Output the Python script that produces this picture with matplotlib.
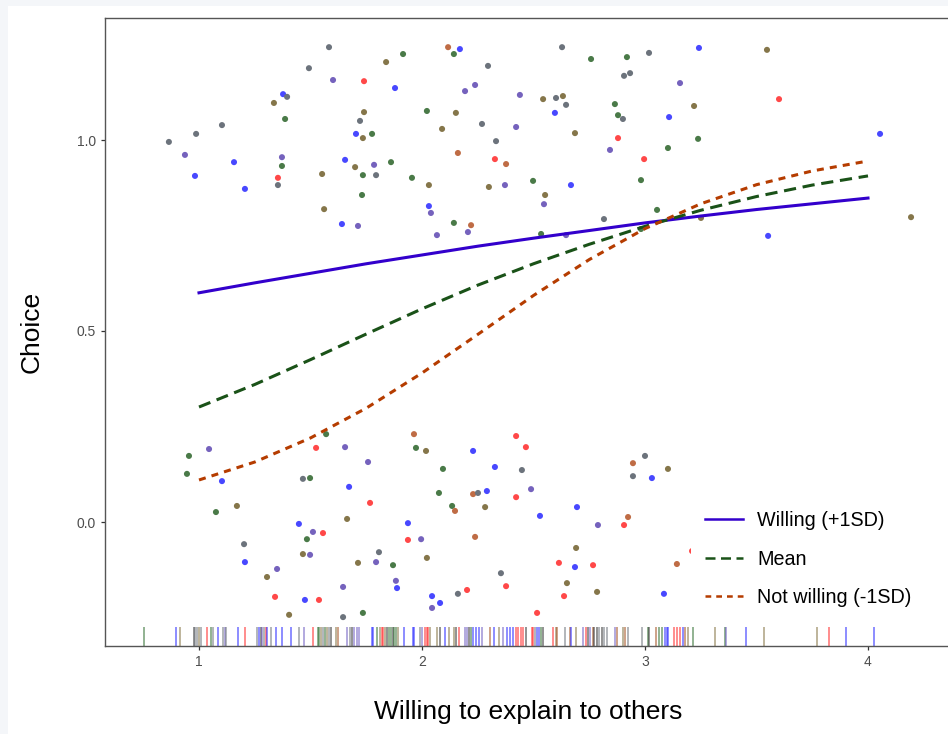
import numpy as np
import matplotlib
matplotlib.use("Agg")
import matplotlib.pyplot as plt
from matplotlib.patches import Rectangle
from matplotlib.transforms import blended_transform_factory

plt.rcParams['font.family'] = ['Liberation Sans', 'DejaVu Sans']

# fitted curves
curve_x = [1.0, 1.25, 1.5, 1.75, 2.0, 2.25, 2.5, 2.75, 3.0, 3.25, 3.5, 3.75, 4.0]
willing = [0.600, 0.626, 0.651, 0.676, 0.699, 0.722, 0.743, 0.763, 0.783, 0.801, 0.818, 0.833, 0.848]
mean_ = [0.301, 0.360, 0.425, 0.492, 0.558, 0.620, 0.676, 0.727, 0.774, 0.816, 0.852, 0.882, 0.906]
not_willing = [0.110, 0.157, 0.220, 0.298, 0.390, 0.491, 0.593, 0.687, 0.768, 0.833, 0.883, 0.919, 0.945]

# jittered points: choice = 1
top_x = [0.865, 0.937, 0.987, 0.982, 1.103, 1.157, 1.206, 1.336, 1.377, 1.395,
         1.386, 1.372, 1.372, 1.354, 1.354, 1.493, 1.583, 1.601, 1.561, 1.552,
         1.641, 1.713, 1.655, 1.700, 1.735, 1.785, 1.794, 1.731, 1.704, 1.735,
         1.776, 1.722, 1.740, 1.740, 1.839, 1.915, 1.879, 1.861, 1.955, 2.031,
         2.031, 2.040, 2.067, 2.022, 2.090, 2.117, 2.170, 2.143, 2.296, 2.193,
         2.238, 2.152, 2.269, 2.422, 2.439, 2.332, 2.161, 2.327, 2.377, 2.300,
         2.372, 2.498, 2.143, 2.220, 2.206, 2.552, 2.547, 2.534, 2.646, 2.628,
         2.543, 2.601, 2.632, 2.646, 2.596, 2.686, 2.668, 2.758, 2.919, 3.018,
         2.906, 2.933, 2.865, 2.879, 2.901, 2.879, 2.843, 2.996, 2.982, 3.242,
         3.157, 3.220, 3.108, 3.238, 3.103, 3.054, 2.816, 3.251, 3.547, 3.601,
         4.054, 4.193, 3.552, 2.982]
top_y = [0.995, 0.961, 1.016, 0.906, 1.039, 0.942, 0.872, 1.097, 1.120, 1.113,
         1.055, 0.955, 0.932, 0.901, 0.882, 1.188, 1.243, 1.157, 0.819, 0.911,
         0.780, 0.775, 0.948, 0.929, 0.908, 0.935, 0.908, 0.856, 1.016, 1.005,
         1.016, 1.050, 1.073, 1.154, 1.204, 1.225, 1.136, 0.942, 0.901, 0.882,
         0.827, 0.809, 0.751, 1.076, 1.029, 1.243, 1.238, 1.225, 1.194, 1.128,
         1.144, 1.071, 1.042, 1.034, 1.118, 0.997, 0.966, 0.950, 0.937, 0.877,
         0.882, 0.893, 0.783, 0.777, 0.759, 0.856, 0.832, 0.754, 0.751, 1.243,
         1.107, 1.110, 1.115, 1.092, 1.071, 1.018, 0.882, 1.212, 1.217, 1.228,
         1.168, 1.175, 1.094, 1.065, 1.055, 1.005, 0.974, 0.950, 0.895, 1.241,
         1.149, 1.089, 1.060, 1.003, 0.979, 0.817, 0.793, 0.796, 1.236, 1.107,
         1.016, 0.798, 0.749, 0.767]
top_grp = ['gray', 'purple', 'gray', 'blue', 'gray', 'blue', 'blue', 'olive', 'blue', 'gray',
           'green', 'purple', 'green', 'red', 'gray', 'gray', 'gray', 'purple', 'olive', 'olive',
           'blue', 'purple', 'blue', 'olive', 'green', 'purple', 'gray', 'green', 'blue', 'olive',
           'green', 'gray', 'olive', 'red', 'olive', 'green', 'blue', 'green', 'green', 'olive',
           'blue', 'purple', 'purple', 'green', 'olive', 'orange', 'blue', 'green', 'gray', 'purple',
           'purple', 'olive', 'gray', 'purple', 'purple', 'gray', 'orange', 'red', 'orange', 'olive',
           'purple', 'green', 'green', 'orange', 'purple', 'olive', 'purple', 'green', 'purple', 'gray',
           'olive', 'gray', 'olive', 'gray', 'blue', 'olive', 'blue', 'green', 'green', 'gray',
           'gray', 'gray', 'green', 'green', 'gray', 'red', 'purple', 'red', 'green', 'blue',
           'purple', 'olive', 'blue', 'green', 'green', 'green', 'gray', 'olive', 'olive', 'red',
           'blue', 'olive', 'blue', 'green']

# jittered points: choice = 0
bot_x = [0.955, 0.946, 1.045, 1.103, 1.076, 1.170, 1.202, 1.206, 1.305, 1.350,
         1.341, 1.404, 1.448, 1.511, 1.556, 1.484, 1.466, 1.498, 1.475, 1.538,
         1.466, 1.498, 1.570, 1.525, 1.655, 1.758, 1.673, 1.767, 1.664, 1.646,
         1.646, 1.713, 1.794, 1.807, 1.870, 1.883, 1.888, 1.735, 1.937, 1.937,
         1.996, 2.022, 1.964, 1.973, 2.018, 2.094, 2.076, 2.045, 2.081, 2.045,
         2.135, 2.148, 2.229, 2.327, 2.229, 2.251, 2.291, 2.283, 2.448, 2.422,
         2.466, 2.422, 2.489, 2.529, 2.238, 2.161, 2.202, 2.354, 2.377, 2.516,
         2.695, 2.789, 2.691, 2.614, 2.686, 2.767, 2.650, 2.637, 2.785, 2.946,
         3.000, 3.103, 2.946, 3.031, 2.924, 2.906, 3.143, 3.085, 3.211]
bot_y = [0.173, 0.126, 0.191, 0.107, 0.026, 0.042, -0.058, -0.105, -0.144, -0.123,
         -0.196, -0.243, -0.005, -0.026, -0.029, -0.045, -0.084, -0.086, -0.204, -0.204,
         0.113, 0.115, 0.230, 0.194, 0.196, 0.157, 0.092, 0.050, 0.008, -0.170,
         -0.249, -0.107, -0.105, -0.079, -0.113, -0.154, -0.173, -0.238, -0.003, -0.047,
         -0.045, -0.094, 0.230, 0.194, 0.186, 0.139, 0.076, -0.194, -0.212, -0.225,
         0.042, 0.029, 0.186, 0.144, 0.073, 0.076, 0.081, 0.039, 0.136, 0.225,
         0.196, 0.065, 0.086, 0.016, -0.039, -0.188, -0.178, -0.134, -0.168, -0.238,
         0.039, -0.008, -0.068, -0.107, -0.118, -0.113, -0.160, -0.194, -0.183, 0.154,
         0.173, 0.139, 0.120, 0.115, 0.013, -0.008, -0.110, -0.188, -0.076]
bot_grp = ['green', 'green', 'purple', 'blue', 'green', 'olive', 'gray', 'blue', 'olive', 'purple',
           'red', 'olive', 'blue', 'purple', 'red', 'green', 'olive', 'purple', 'blue', 'red',
           'gray', 'green', 'green', 'red', 'purple', 'purple', 'blue', 'red', 'olive', 'purple',
           'gray', 'olive', 'purple', 'gray', 'green', 'purple', 'blue', 'green', 'blue', 'red',
           'purple', 'olive', 'orange', 'green', 'olive', 'green', 'green', 'blue', 'blue', 'purple',
           'green', 'orange', 'blue', 'blue', 'orange', 'gray', 'blue', 'olive', 'gray', 'red',
           'red', 'red', 'purple', 'blue', 'orange', 'gray', 'red', 'gray', 'red', 'red',
           'blue', 'purple', 'olive', 'red', 'blue', 'red', 'olive', 'red', 'olive', 'orange',
           'gray', 'olive', 'gray', 'blue', 'orange', 'red', 'orange', 'blue', 'red']

# rug (raw x values)
rug_x = [0.752, 0.897, 0.915, 0.976, 0.982, 0.990, 1.000, 1.009, 1.034, 1.054,
         1.061, 1.085, 1.109, 1.117, 1.122, 1.175, 1.208, 1.260, 1.271, 1.278,
         1.284, 1.291, 1.299, 1.303, 1.323, 1.345, 1.374, 1.413, 1.448, 1.472,
         1.510, 1.532, 1.540, 1.549, 1.558, 1.565, 1.573, 1.584, 1.593, 1.613,
         1.622, 1.665, 1.677, 1.686, 1.695, 1.707, 1.717, 1.774, 1.782, 1.797,
         1.812, 1.819, 1.826, 1.834, 1.842, 1.851, 1.860, 1.869, 1.876, 1.885,
         1.894, 1.919, 1.958, 1.966, 1.991, 1.999, 2.013, 2.021, 2.028, 2.036,
         2.066, 2.081, 2.103, 2.122, 2.145, 2.152, 2.166, 2.193, 2.200, 2.212,
         2.218, 2.230, 2.242, 2.256, 2.268, 2.305, 2.323, 2.345, 2.363, 2.380,
         2.395, 2.409, 2.422, 2.432, 2.443, 2.452, 2.466, 2.492, 2.499, 2.505,
         2.514, 2.526, 2.534, 2.544, 2.586, 2.601, 2.607, 2.641, 2.664, 2.668,
         2.691, 2.723, 2.734, 2.743, 2.753, 2.765, 2.773, 2.783, 2.794, 2.806,
         2.817, 2.828, 2.865, 2.873, 2.903, 2.910, 2.925, 2.985, 3.012, 3.019,
         3.049, 3.064, 3.075, 3.090, 3.097, 3.105, 3.130, 3.142, 3.157, 3.169,
         3.179, 3.194, 3.214, 3.314, 3.359, 3.363, 3.454, 3.534, 3.773, 3.825,
         3.903, 4.026]
rug_grp = ['green', 'blue', 'olive', 'dark', 'gray', 'gray', 'olive', 'gray', 'red', 'green',
           'gray', 'blue', 'gray', 'purple', 'gray', 'blue', 'red', 'gray', 'blue', 'dark',
           'purple', 'gray', 'red', 'blue', 'gray', 'blue', 'blue', 'blue', 'gray', 'purple',
           'red', 'green', 'green', 'olive', 'gray', 'green', 'olive', 'gray', 'dark', 'olive',
           'orange', 'purple', 'gray', 'dark', 'purple', 'purple', 'purple', 'blue', 'blue', 'green',
           'olive', 'red', 'red', 'olive', 'dark', 'green', 'green', 'dark', 'green', 'green',
           'olive', 'blue', 'blue', 'blue', 'gray', 'purple', 'red', 'red', 'red', 'olive',
           'olive', 'dark', 'blue', 'olive', 'olive', 'dark', 'red', 'purple', 'purple', 'dark',
           'green', 'blue', 'blue', 'blue', 'purple', 'orange', 'blue', 'olive', 'purple', 'blue',
           'blue', 'blue', 'red', 'red', 'red', 'red', 'dark', 'red', 'red', 'gray',
           'blue', 'blue', 'green', 'dark', 'red', 'olive', 'orange', 'gray', 'orange', 'blue',
           'olive', 'purple', 'red', 'dark', 'purple', 'orange', 'dark', 'dark', 'gray', 'dark',
           'gray', 'gray', 'purple', 'orange', 'olive', 'orange', 'gray', 'gray', 'green', 'dark',
           'orange', 'green', 'green', 'blue', 'blue', 'blue', 'red', 'red', 'red', 'blue',
           'orange', 'olive', 'green', 'olive', 'green', 'purple', 'blue', 'olive', 'olive', 'red',
           'blue', 'blue']

pt_col = {'blue': '#4848ff', 'red': '#ff4848', 'green': '#4a7a48', 'olive': '#85764a',
          'gray': '#6c737c', 'purple': '#7562bd', 'orange': '#bf6c45'}
rug_col = {'blue': '#2020ff', 'red': '#ff2020', 'green': '#2a6a2a', 'olive': '#806f3c',
           'gray': '#6a7078', 'purple': '#6a58c0', 'orange': '#a04a18', 'dark': '#2a2a2a'}

fig = plt.figure(figsize=(9.48, 7.34), dpi=100, facecolor='#f4f6f9')
fig.patches.append(Rectangle((8 / 948, 0), 1, (734 - 6) / 734, transform=fig.transFigure,
                             facecolor='white', edgecolor='none', zorder=-5))

ax = fig.add_axes([105 / 948, (734 - 646) / 734, (951 - 105) / 948, 628 / 734])
ax.set_facecolor('white')

trans = blended_transform_factory(ax.transData, ax.transAxes)
ax.vlines(rug_x, 0, 0.031, transform=trans, colors=[rug_col[g] for g in rug_grp],
          linewidth=1.2, alpha=0.6, zorder=1)

ax.scatter(top_x + bot_x, top_y + bot_y, s=19, c=[pt_col[g] for g in top_grp + bot_grp],
           edgecolors='none', zorder=2)

ax.plot(curve_x, willing, color='#3300cc', lw=2.2, label='Willing (+1SD)', zorder=3)
ax.plot(curve_x, mean_, color='#1a5218', lw=2.2, dashes=(4.0, 2.2), label='Mean', zorder=3)
ax.plot(curve_x, not_willing, color='#b53c00', lw=2.2, dashes=(2.3, 2.0),
        label='Not willing (-1SD)', zorder=3)

ax.set_xlim(1 + (105 - 199) / 223, 1 + (951 - 199) / 223)
ax.set_ylim(-124 / 382, 504 / 382)
ax.set_xticks([1, 2, 3, 4])
ax.set_yticks([0.0, 0.5, 1.0])
ax.set_yticklabels(['0.0', '0.5', '1.0'])
ax.tick_params(labelsize=10, labelcolor='#4d4d4d', color='#333333', length=3, width=0.9)

for side in ['left', 'bottom', 'top', 'right']:
    ax.spines[side].set_color('#555555')
    ax.spines[side].set_linewidth(1.0)

ax.set_xlabel('Willing to explain to others', fontsize=19)
ax.set_ylabel('Choice', fontsize=19)
ax.xaxis.label.set_va('center')
ax.yaxis.label.set_va('center')
ax.xaxis.set_label_coords(0.5, (646 - 712) / 628)
ax.yaxis.set_label_coords((32 - 105) / 846, 0.5)

leg = ax.legend(loc='upper left', bbox_to_anchor=(691 / 948, (734 - 497) / 734),
                bbox_transform=fig.transFigure, frameon=True, fontsize=14.2,
                handlelength=1.93, handletextpad=0.72, labelspacing=1.0, borderpad=0.7,
                borderaxespad=0, fancybox=False)
leg.get_frame().set_edgecolor('none')
leg.get_frame().set_facecolor('white')
leg.get_frame().set_alpha(1)
for line in leg.get_lines():
    line.set_linewidth(1.8)

fig.savefig('out.png', dpi=100, facecolor=fig.get_facecolor())
